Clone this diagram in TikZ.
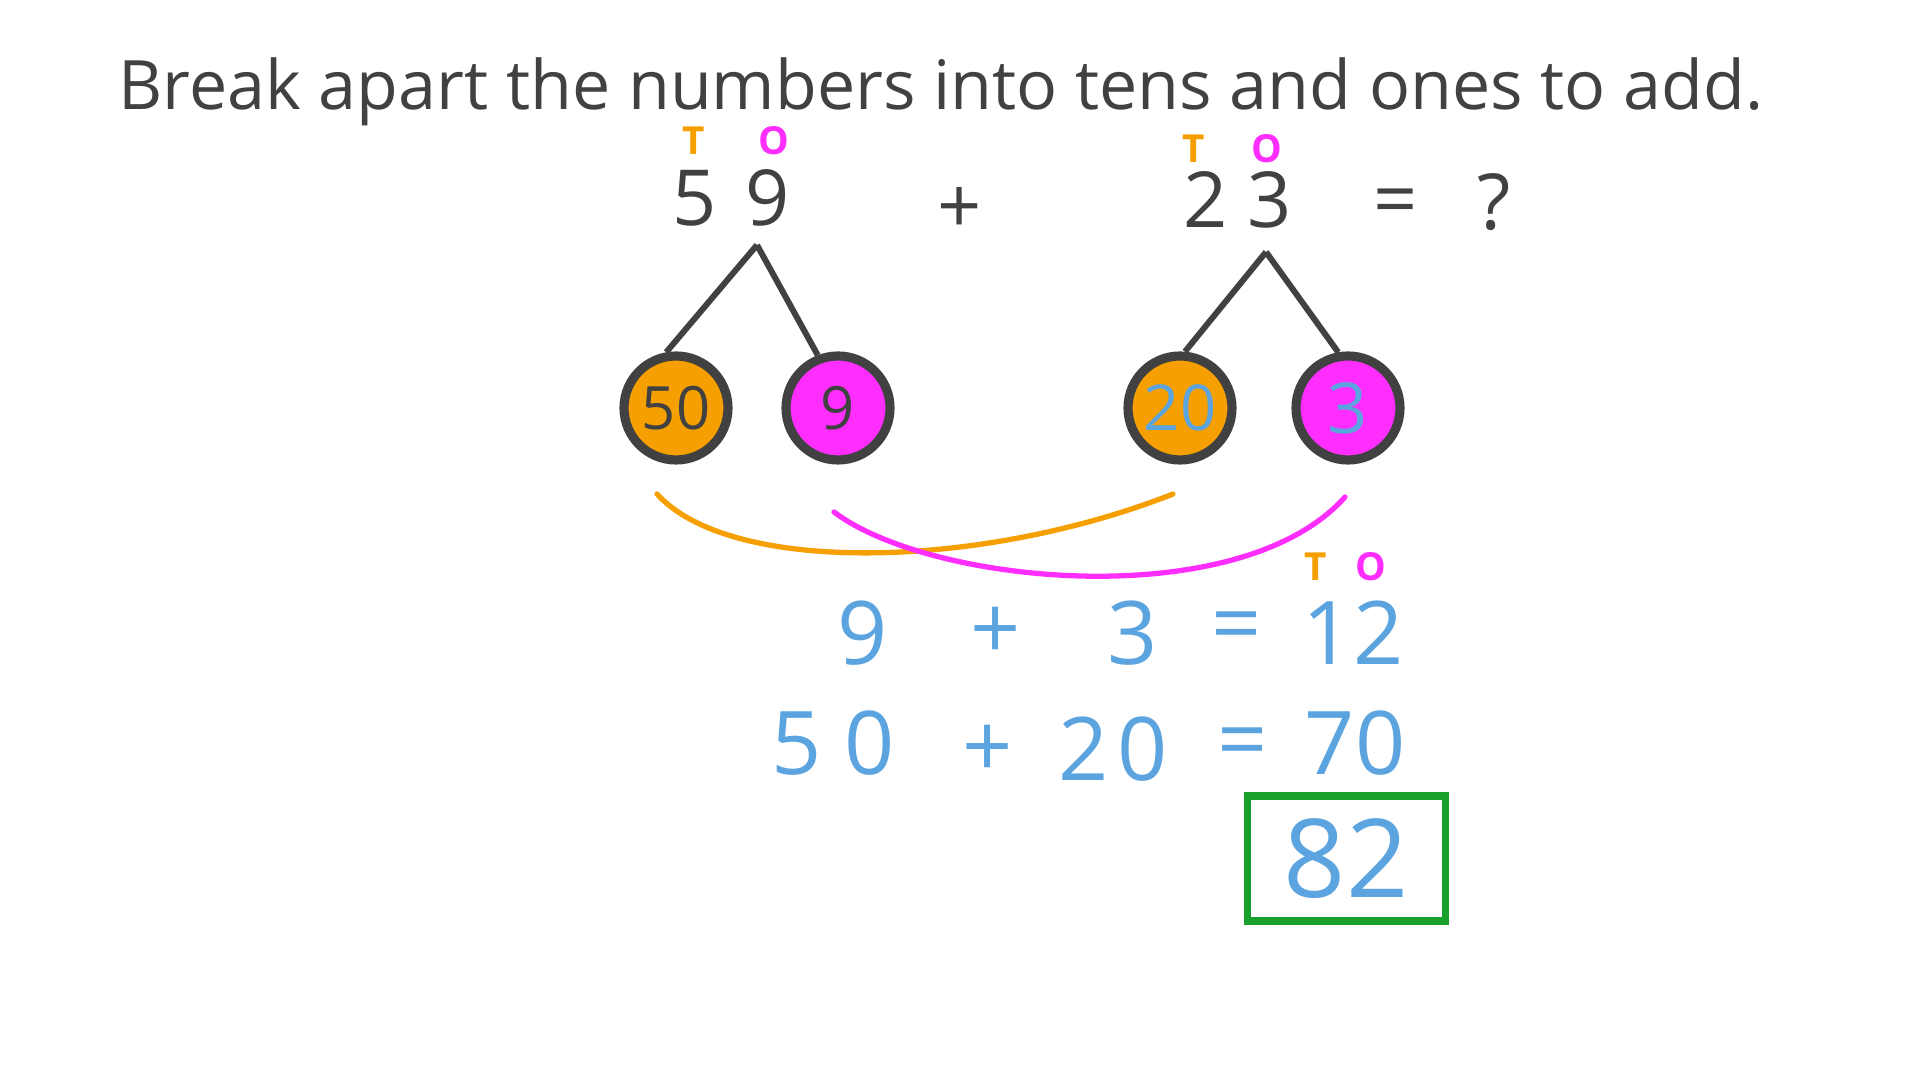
\documentclass[tikz,border=0pt]{standalone}
\usepackage{fontspec}
\setmainfont{Open Sans}
\usetikzlibrary{positioning}
\definecolor{ink}{HTML}{414141}
\definecolor{tens}{HTML}{F5A000}
\definecolor{ones}{HTML}{FF2EFF}
\definecolor{sky}{HTML}{5BA4DF}
\definecolor{boxgreen}{HTML}{18A02C}
\tikzset{
  digit/.style={text=ink, font=\fontsize{22}{22}\selectfont},
  tlabel/.style={text=tens, font=\fontsize{11}{11}\selectfont\bfseries},
  olabel/.style={text=ones, font=\fontsize{11}{11}\selectfont\bfseries},
  ball/.style={circle, draw=ink, line width=2.6pt, minimum size=1.04cm, inner sep=0pt},
  sum/.style={text=sky, font=\fontsize{25}{25}\selectfont},
  leg/.style={draw=ink, line width=1.7pt}
}
\begin{document}
\begin{tikzpicture}[%
        every node/.style={inner sep=0pt},
        node distance=0.3cm, >=latex
      ]
      \useasboundingbox [fill=white] (0,0) rectangle (19.2,10.8);
      \node [] (title) [text=ink, font=\fontsize{19.4}{19.4}\selectfont] at (9.41,9.88) {Break apart the numbers into tens and ones to add.};
      % first number
      \node [] (n5) [digit] at (6.95,8.82) {5};
      \node [] (n9) [digit] at (7.68,8.82) {9};
      \node [] (t59) [tlabel] at (6.94,9.39) {T};
      \node [] (o59) [olabel] at (7.74,9.39) {O};
      \node [] (plus) [digit] at (9.60,8.69) {+};
      % second number
      \node [] (n2) [digit] at (12.06,8.80) {2};
      \node [] (n3) [digit] at (12.70,8.80) {3};
      \node [] (t23) [tlabel] at (11.94,9.31) {T};
      \node [] (o23) [olabel] at (12.67,9.31) {O};
      \node [] (eq) [digit] at (13.96,8.72) {=};
      \node [] (ask) [digit] at (14.94,8.78) {?};
      % parts
      \coordinate (top59) at (7.57,8.35);
      \coordinate (top23) at (12.66,8.28);
      \node [] (c50) [ball, fill=tens, text=ink, font=\fontsize{17}{17}\selectfont] at (6.76,6.72) {50};
      \node [] (c9) [ball, fill=ones, text=ink, font=\fontsize{17}{17}\selectfont] at (8.38,6.72) {9};
      \node [] (c20) [ball, fill=tens, text=sky, font=\fontsize{18}{18}\selectfont] at (11.80,6.72) {20};
      \node [] (c3) [ball, fill=ones, text=sky, font=\fontsize{20}{20}\selectfont] at (13.48,6.72) {3};
      \path [leg] (top59) -- (c50.100) (top59) -- (c9.111)
      (top23) -- (c20.85) (top23) -- (c3.100);
      % matching curves
      \coordinate (a50) at (6.57,5.86);
      \coordinate (a20) at (11.73,5.86);
      \coordinate (a9) at (8.34,5.68);
      \coordinate (a3) at (13.45,5.83);
      \draw [tens, line width=1.5pt, line cap=round] (a50) .. controls (7.3,5.05) and (9.8,5.1) .. (a20);
      \draw [ones, line width=1.5pt, line cap=round] (a9) .. controls (9.3,4.95) and (12.4,4.65) .. (a3);
      % sums
      \node [] (s9) [sum] at (8.63,4.47) {9};
      \node [] (splus) [sum] at (9.96,4.47) {+};
      \node [] (s3) [sum] at (11.33,4.47) {3};
      \node [] (seq) [sum] at (12.37,4.47) {=};
      \node [] (s12) [sum] at (13.53,4.47) {12};
      \node [] (t12) [tlabel] at (13.16,5.13) {T};
      \node [] (o12) [olabel] at (13.71,5.13) {O};
      \node [] (s50) [sum] at (8.33,3.37) {5\hspace{0.25em}0};
      \node [] (splus2) [sum] at (9.88,3.29) {+};
      \node [] (s20) [sum] at (11.13,3.31) {2\hspace{0.1em}0};
      \node [] (seq2) [sum] at (12.43,3.31) {=};
      \node [] (s70) [sum] at (13.55,3.37) {70};
      \node [] (total) [draw=boxgreen, line width=2pt, minimum width=1.98cm, minimum height=1.25cm,
        text=sky, font=\fontsize{31}{31}\selectfont] at (13.46,2.215) {82};
    \end{tikzpicture}
\end{document}
